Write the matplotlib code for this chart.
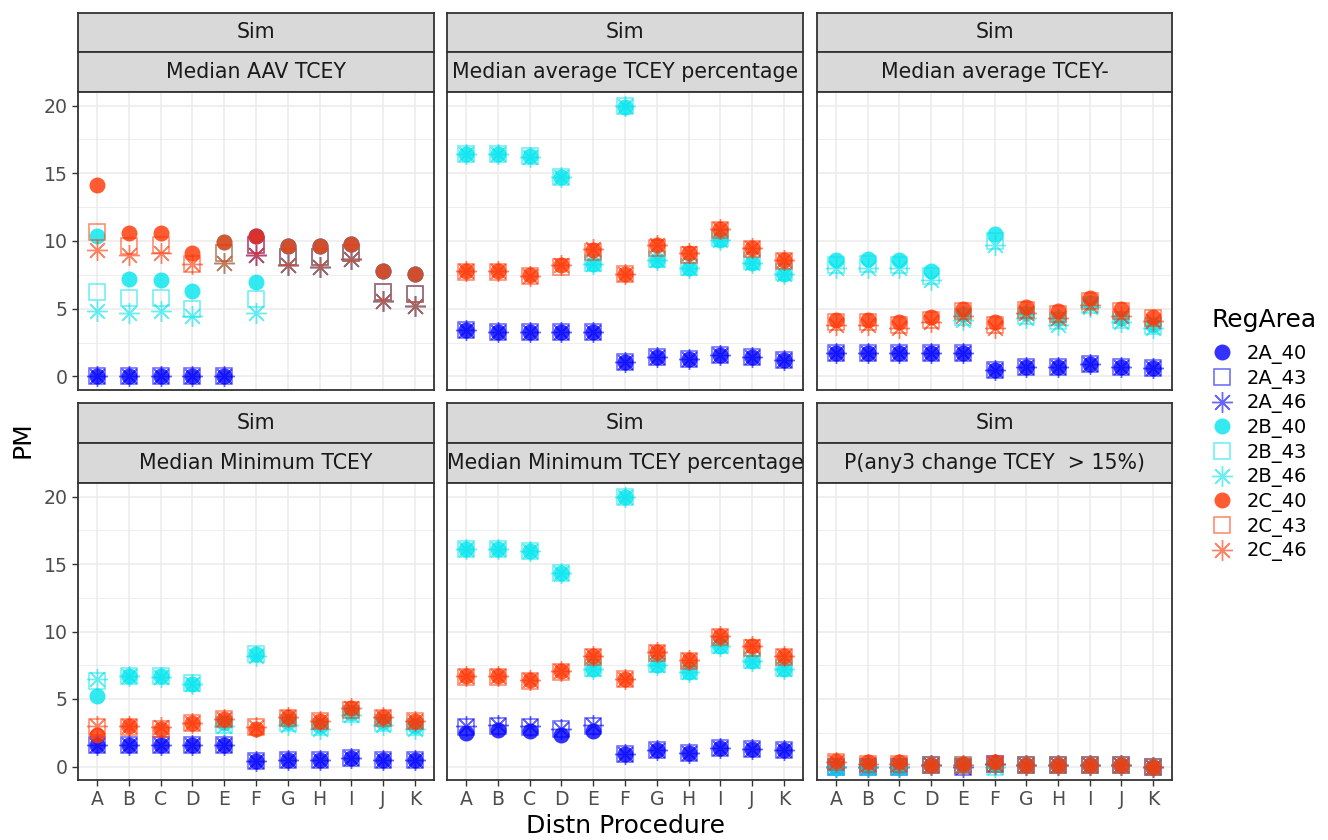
import matplotlib
matplotlib.use("Agg")
import matplotlib.pyplot as plt
from matplotlib.lines import Line2D
import numpy as np

W, H = 1328, 840

PROCS = ["A", "B", "C", "D", "E", "F", "G", "H", "I", "J", "K"]
REG_AREAS = ["2A_40", "2A_43", "2A_46", "2B_40", "2B_43", "2B_46",
             "2C_40", "2C_43", "2C_46"]
PANEL_TITLES = ["Median AAV TCEY", "Median average TCEY percentage",
                "Median average TCEY-", "Median Minimum TCEY",
                "Median Minimum TCEY percentage",
                "P(any3 change TCEY  > 15%)"]

# --- Median AAV TCEY
AAV_2A_40 = [0, 0, 0, 0, 0, 10.4, 9.6, 9.6, 9.8, 7.8, 7.6]
AAV_2A_43 = [0, 0, 0, 0, 0, 9.7, 8.8, 8.8, 9.1, 6.2, 6.1]
AAV_2A_46 = [0, 0, 0, 0, 0, 9.0, 8.2, 8.1, 8.7, 5.6, 5.2]
AAV_2B_40 = [10.4, 7.2, 7.1, 6.3, 9.9, 7.0, 9.6, 9.6, 9.8, 7.8, 7.6]
AAV_2B_43 = [6.2, 5.8, 5.8, 5.0, 9.1, 5.7, 8.8, 8.8, 9.1, 6.2, 6.1]
AAV_2B_46 = [4.8, 4.7, 4.8, 4.5, 8.4, 4.7, 8.2, 8.1, 8.7, 5.6, 5.2]
AAV_2C_40 = [14.1, 10.6, 10.6, 9.1, 9.9, 10.4, 9.6, 9.6, 9.8, 7.8, 7.6]
AAV_2C_43 = [10.7, 9.6, 9.7, 8.3, 9.1, 9.7, 8.8, 8.8, 9.1, 6.2, 6.1]
AAV_2C_46 = [9.3, 9.0, 9.1, 8.3, 8.4, 9.0, 8.2, 8.1, 8.7, 5.6, 5.2]

# --- Median average TCEY percentage
AVGP_2A_40 = [3.4, 3.3, 3.3, 3.3, 3.3, 1.1, 1.4, 1.3, 1.6, 1.4, 1.2]
AVGP_2A_43 = [3.4, 3.3, 3.3, 3.3, 3.3, 1.1, 1.4, 1.3, 1.6, 1.4, 1.2]
AVGP_2A_46 = [3.4, 3.3, 3.3, 3.3, 3.3, 1.1, 1.4, 1.3, 1.6, 1.4, 1.2]
AVGP_2B_40 = [16.4, 16.4, 16.3, 14.7, 8.3, 19.9, 8.6, 8.0, 10.1, 8.4, 7.6]
AVGP_2B_43 = [16.4, 16.4, 16.3, 14.7, 8.4, 20.0, 8.7, 8.1, 10.2, 8.5, 7.7]
AVGP_2B_46 = [16.4, 16.4, 16.2, 14.7, 8.3, 20.0, 8.6, 8.0, 10.1, 8.4, 7.6]
AVGP_2C_40 = [7.8, 7.8, 7.5, 8.2, 9.3, 7.6, 9.7, 9.1, 10.9, 9.5, 8.6]
AVGP_2C_43 = [7.7, 7.7, 7.4, 8.1, 9.2, 7.6, 9.5, 9.0, 10.8, 9.4, 8.5]
AVGP_2C_46 = [7.8, 7.8, 7.4, 8.2, 9.4, 7.6, 9.7, 9.1, 10.9, 9.5, 8.6]

# --- Median average TCEY-
AVG_2A_40 = [1.7, 1.7, 1.7, 1.7, 1.7, 0.5, 0.7, 0.7, 0.9, 0.7, 0.6]
AVG_2A_43 = [1.7, 1.7, 1.7, 1.7, 1.7, 0.5, 0.7, 0.7, 0.9, 0.7, 0.6]
AVG_2A_46 = [1.7, 1.7, 1.7, 1.7, 1.7, 0.5, 0.7, 0.7, 0.9, 0.7, 0.6]
AVG_2B_40 = [8.6, 8.7, 8.6, 7.8, 4.6, 10.5, 4.7, 4.3, 5.4, 4.3, 3.8]
AVG_2B_43 = [8.2, 8.3, 8.2, 7.4, 4.4, 10.0, 4.5, 4.1, 5.3, 4.2, 3.7]
AVG_2B_46 = [8.0, 8.0, 8.0, 7.1, 4.2, 9.7, 4.3, 3.8, 5.1, 4.0, 3.6]
AVG_2C_40 = [4.2, 4.2, 4.0, 4.4, 5.0, 4.0, 5.1, 4.8, 5.8, 5.0, 4.4]
AVG_2C_43 = [4.0, 4.0, 3.8, 4.2, 4.8, 3.8, 4.9, 4.6, 5.6, 4.8, 4.3]
AVG_2C_46 = [3.8, 3.8, 3.6, 4.0, 4.5, 3.6, 4.7, 4.3, 5.3, 4.5, 4.1]

# --- Median Minimum TCEY
MIN_2A_40 = [1.6, 1.6, 1.6, 1.6, 1.6, 0.4, 0.5, 0.5, 0.6, 0.5, 0.5]
MIN_2A_43 = [1.6, 1.6, 1.6, 1.6, 1.6, 0.4, 0.5, 0.5, 0.6, 0.5, 0.5]
MIN_2A_46 = [1.6, 1.6, 1.6, 1.6, 1.6, 0.4, 0.5, 0.5, 0.6, 0.5, 0.5]
MIN_2B_40 = [5.2, 6.7, 6.7, 6.1, 3.2, 8.3, 3.3, 3.0, 4.0, 3.3, 3.0]
MIN_2B_43 = [6.3, 6.7, 6.7, 6.2, 3.1, 8.3, 3.2, 2.9, 3.9, 3.2, 2.9]
MIN_2B_46 = [6.5, 6.7, 6.6, 6.1, 3.0, 8.2, 3.1, 2.8, 3.8, 3.1, 2.8]
MIN_2C_40 = [2.3, 3.0, 2.8, 3.2, 3.5, 2.8, 3.7, 3.4, 4.3, 3.7, 3.4]
MIN_2C_43 = [2.9, 2.9, 2.8, 3.2, 3.5, 2.9, 3.6, 3.4, 4.2, 3.6, 3.4]
MIN_2C_46 = [3.0, 3.0, 2.9, 3.2, 3.5, 2.9, 3.7, 3.4, 4.3, 3.7, 3.4]

# --- Median Minimum TCEY percentage
MINP_2A_40 = [2.5, 2.7, 2.6, 2.3, 2.6, 0.9, 1.2, 1.0, 1.4, 1.3, 1.2]
MINP_2A_43 = [2.9, 3.0, 2.9, 2.8, 3.0, 0.9, 1.2, 1.0, 1.4, 1.3, 1.2]
MINP_2A_46 = [3.0, 3.1, 3.0, 2.8, 3.1, 0.9, 1.2, 1.0, 1.4, 1.3, 1.2]
MINP_2B_40 = [16.1, 16.1, 16.0, 14.3, 7.2, 20.0, 7.5, 7.0, 8.9, 7.8, 7.2]
MINP_2B_43 = [16.1, 16.1, 16.0, 14.3, 7.3, 20.0, 7.6, 7.1, 9.0, 7.9, 7.3]
MINP_2B_46 = [16.1, 16.1, 16.0, 14.3, 7.2, 20.0, 7.5, 7.0, 8.9, 7.8, 7.2]
MINP_2C_40 = [6.7, 6.7, 6.4, 7.1, 8.2, 6.5, 8.5, 7.9, 9.7, 8.9, 8.2]
MINP_2C_43 = [6.6, 6.6, 6.3, 7.0, 8.1, 6.5, 8.4, 7.8, 9.6, 8.8, 8.1]
MINP_2C_46 = [6.7, 6.7, 6.4, 7.1, 8.2, 6.5, 8.5, 7.9, 9.7, 8.9, 8.2]

# --- P(any3 change TCEY > 15%)
P15_2A_40 = [0.0, 0.0, 0.0, 0.1, 0.1, 0.2, 0.1, 0.1, 0.1, 0.1, 0.0]
P15_2A_43 = [0.0, 0.0, 0.0, 0.1, 0.0, 0.2, 0.1, 0.1, 0.1, 0.1, 0.0]
P15_2A_46 = [0.0, 0.0, 0.0, 0.1, 0.0, 0.2, 0.1, 0.1, 0.1, 0.1, 0.0]
P15_2B_40 = [0.0, 0.0, 0.0, 0.1, 0.1, 0.1, 0.1, 0.1, 0.1, 0.1, 0.0]
P15_2B_43 = [0.0, 0.0, 0.0, 0.1, 0.1, 0.0, 0.1, 0.1, 0.1, 0.1, 0.0]
P15_2B_46 = [0.0, 0.0, 0.0, 0.1, 0.1, 0.0, 0.1, 0.1, 0.1, 0.1, 0.0]
P15_2C_40 = [0.4, 0.3, 0.3, 0.1, 0.2, 0.3, 0.1, 0.1, 0.1, 0.1, 0.0]
P15_2C_43 = [0.3, 0.2, 0.2, 0.1, 0.1, 0.2, 0.1, 0.1, 0.1, 0.1, 0.0]
P15_2C_46 = [0.3, 0.2, 0.2, 0.1, 0.1, 0.2, 0.1, 0.1, 0.1, 0.1, 0.0]

PANEL_DATA = [
    [AAV_2A_40, AAV_2A_43, AAV_2A_46, AAV_2B_40, AAV_2B_43, AAV_2B_46,
     AAV_2C_40, AAV_2C_43, AAV_2C_46],
    [AVGP_2A_40, AVGP_2A_43, AVGP_2A_46, AVGP_2B_40, AVGP_2B_43, AVGP_2B_46,
     AVGP_2C_40, AVGP_2C_43, AVGP_2C_46],
    [AVG_2A_40, AVG_2A_43, AVG_2A_46, AVG_2B_40, AVG_2B_43, AVG_2B_46,
     AVG_2C_40, AVG_2C_43, AVG_2C_46],
    [MIN_2A_40, MIN_2A_43, MIN_2A_46, MIN_2B_40, MIN_2B_43, MIN_2B_46,
     MIN_2C_40, MIN_2C_43, MIN_2C_46],
    [MINP_2A_40, MINP_2A_43, MINP_2A_46, MINP_2B_40, MINP_2B_43, MINP_2B_46,
     MINP_2C_40, MINP_2C_43, MINP_2C_46],
    [P15_2A_40, P15_2A_43, P15_2A_46, P15_2B_40, P15_2B_43, P15_2B_46,
     P15_2C_40, P15_2C_43, P15_2C_46],
]

COLOURS = {"2A": "#0000FF", "2B": "#00E5EE", "2C": "#FF3300"}
ASTERISK = (8, 2, 0)


def style_for(name):
    colour = COLOURS[name[:2]]
    kind = name[3:]
    if kind == "40":
        return dict(marker="o", markersize=11.5, markerfacecolor=colour,
                    markeredgecolor=colour, markeredgewidth=0, alpha=0.8)
    if kind == "43":
        return dict(marker="s", markersize=11.0, markerfacecolor="none",
                    markeredgecolor=colour, markeredgewidth=1.1, alpha=0.6)
    return dict(marker=ASTERISK, markersize=15.0, markerfacecolor="none",
                markeredgecolor=colour, markeredgewidth=1.0, alpha=0.6)


plt.rcParams.update({"font.family": "DejaVu Sans"})
fig = plt.figure(figsize=(W / 100, H / 100), dpi=100)


def px_axes(x0, y0, x1, y1):
    return fig.add_axes([x0 / W, 1 - y1 / H, (x1 - x0) / W, (y1 - y0) / H])


COLS = [(78, 434), (447, 803), (817, 1172)]
ROWS = [((13, 52), (52, 92), (92, 390)),
        ((403, 443), (443, 483), (483, 780))]

xs = np.arange(1, len(PROCS) + 1)
for i, (title, series) in enumerate(zip(PANEL_TITLES, PANEL_DATA)):
    r, c = divmod(i, 3)
    x0, x1 = COLS[c]
    (s1a, s1b), (s2a, s2b), (pa, pb) = ROWS[r]

    for (ya, yb), label in [((s1a, s1b), "Sim"), ((s2a, s2b), title)]:
        sax = px_axes(x0, ya, x1, yb)
        sax.set_facecolor("#D9D9D9")
        sax.set_xticks([])
        sax.set_yticks([])
        for sp in sax.spines.values():
            sp.set_color("#333333")
            sp.set_linewidth(1.3)
        sax.text(0.5, 0.5, label, transform=sax.transAxes, ha="center",
                 va="center", fontsize=14.8, color="#1A1A1A", clip_on=True)

    ax = px_axes(x0, pa, x1, pb)
    ax.set_xlim(0.4, len(PROCS) + 0.6)
    ax.set_ylim(-1.0, 21.0)
    ax.set_yticks([0, 5, 10, 15, 20])
    ax.set_yticks([2.5, 7.5, 12.5, 17.5], minor=True)
    ax.set_xticks(xs)
    ax.grid(which="major", color="#EBEBEB", linewidth=1.1)
    ax.grid(which="minor", axis="y", color="#EBEBEB", linewidth=0.6)
    ax.set_axisbelow(True)
    for sp in ax.spines.values():
        sp.set_color("#333333")
        sp.set_linewidth(1.3)
    ax.tick_params(which="minor", length=0)
    ax.tick_params(which="major", length=4, width=1.0, color="#333333",
                   labelsize=13.6, labelcolor="#4D4D4D")
    if r == 1:
        ax.set_xticklabels(PROCS)
    else:
        ax.tick_params(axis="x", length=0, labelbottom=False)
    if c != 0:
        ax.tick_params(axis="y", length=0, labelleft=False)

    for name, vals in zip(REG_AREAS, series):
        ax.plot(xs, vals, linestyle="none", **style_for(name))

fig.text(625 / W, 1 - 826 / H, "Distn Procedure", ha="center", va="center",
         fontsize=18, color="#000000")
fig.text(22 / W, 1 - 440 / H, "PM", ha="center", va="center",
         fontsize=18, rotation=90, color="#000000")

# legend: title drawn as plain text so the gap to the keys matches
fig.text(1211 / W, 1 - 320 / H, "RegArea", ha="left", va="center",
         fontsize=18, color="#000000")
handles = [Line2D([], [], linestyle="none", **style_for(n)) for n in REG_AREAS]
fig.legend(handles, REG_AREAS, loc="upper left",
           bbox_to_anchor=(1208 / W, 1 - 344 / H), frameon=False,
           borderaxespad=0, borderpad=0,
           fontsize=14, labelspacing=0.24,
           handletextpad=0.6, handlelength=1.4)

fig.savefig("out.png", dpi=100)
